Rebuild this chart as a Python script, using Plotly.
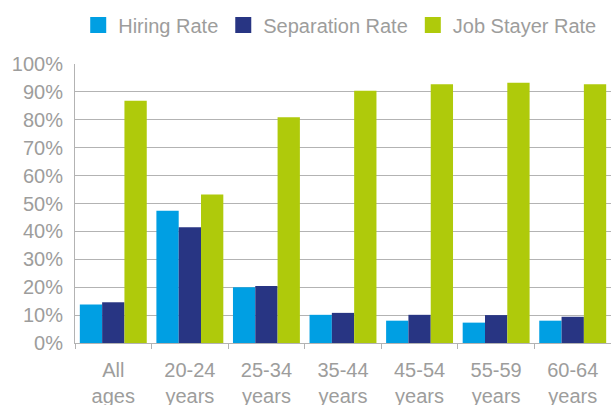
import plotly.graph_objects as go

categories = ["All<br>ages", "20-24<br>years", "25-34<br>years", "35-44<br>years",
              "45-54<br>years", "55-59<br>years", "60-64<br>years"]
hiring = [13.8, 47.4, 20.0, 10.1, 8.0, 7.3, 8.0]
separation = [14.6, 41.5, 20.4, 10.8, 10.1, 10.0, 9.4]
stayer = [86.8, 53.2, 80.9, 90.4, 92.7, 93.3, 92.7]
series_names = ["Hiring Rate", "Separation Rate", "Job Stayer Rate"]
colors = ["#009FE3", "#283583", "#AFCA0B"]
y_ticks = list(range(0, 101, 10))
y_tick_labels = [f"{v}%" for v in y_ticks]

GRAY_TXT = "#9d9d9c"
GRAY_LINE = "#b3b3b3"
FONT = "Liberation Sans"

fig = go.Figure()
for name, vals, col in zip(series_names, [hiring, separation, stayer], colors):
    fig.add_trace(go.Bar(x=categories, y=vals, name=name, marker_color=col,
                         marker_line_width=0, showlegend=False))
# legend entries with larger square symbols
for name, col in zip(series_names, colors):
    fig.add_trace(go.Scatter(x=[None], y=[None], mode="markers", name=name,
                             marker=dict(symbol="square", size=16, color=col),
                             showlegend=True))

fig.update_layout(
    width=611, height=405,
    margin=dict(l=75, r=0, t=64, b=62, autoexpand=False),
    paper_bgcolor="white", plot_bgcolor="white",
    barmode="group", bargap=0.126, bargroupgap=0,
    font=dict(family=FONT, size=20, color=GRAY_TXT),
    legend=dict(orientation="h", x=0.006, xanchor="left", y=1.14, yanchor="middle",
                font=dict(size=20, color=GRAY_TXT), itemsizing="trace",
                bgcolor="rgba(0,0,0,0)"),
    showlegend=True,
)
fig.update_xaxes(
    type="category", showline=True, linecolor=GRAY_LINE, linewidth=1,
    ticks="outside", tickson="boundaries", ticklen=5, tickcolor=GRAY_LINE,
    showgrid=False, tickfont=dict(size=20, color=GRAY_TXT), automargin=False,
    ticklabelstandoff=9,
)
fig.update_yaxes(
    range=[0, 100], tickvals=y_ticks, ticktext=y_tick_labels,
    showline=True, linecolor=GRAY_LINE, linewidth=1,
    showgrid=True, gridcolor=GRAY_LINE, gridwidth=1,
    zeroline=False, ticks="", ticklabelstandoff=7,
    tickfont=dict(size=20, color=GRAY_TXT), automargin=False,
)

fig.write_html(
    "out.html",
    config={"displayModeBar": False},
    post_script="document.body.style.margin='0';document.body.style.overflow='hidden';",
)
